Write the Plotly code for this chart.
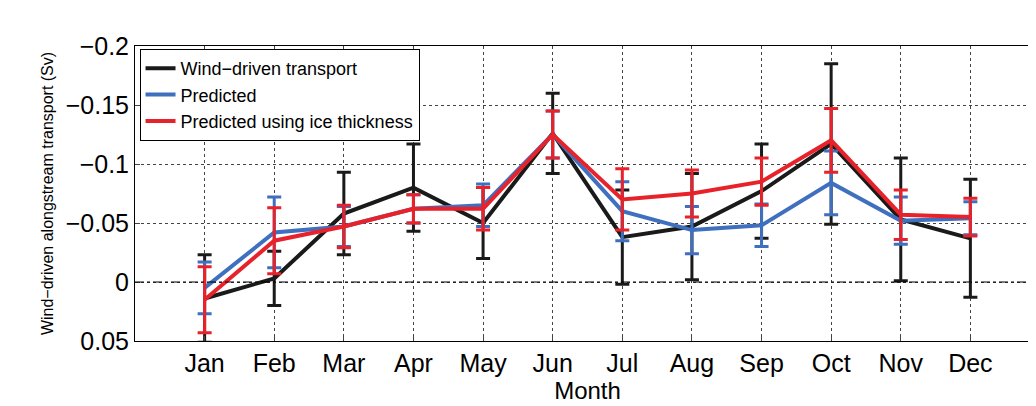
import plotly.graph_objects as go

months = ["Jan","Feb","Mar","Apr","May","Jun","Jul","Aug","Sep","Oct","Nov","Dec"]
wind = [0.014,-0.003,-0.058,-0.080,-0.050,-0.126,-0.038,-0.047,-0.077,-0.117,-0.053,-0.037]
wind_err = [0.037,0.023,0.035,0.037,0.030,0.034,0.040,0.045,0.040,0.068,0.052,0.050]
pred = [0.005,-0.042,-0.047,-0.062,-0.065,-0.125,-0.060,-0.044,-0.048,-0.084,-0.052,-0.054]
pred_err = [0.022,0.030,0.017,0.012,0.018,0.020,0.025,0.020,0.018,0.027,0.020,0.014]
ice = [0.015,-0.035,-0.047,-0.062,-0.062,-0.125,-0.070,-0.075,-0.085,-0.120,-0.057,-0.055]
ice_err = [0.028,0.028,0.018,0.012,0.018,0.020,0.026,0.020,0.020,0.027,0.021,0.016]

x = list(range(1, 13))
fig = go.Figure()
fig.add_shape(type="line", xref="paper", x0=0, x1=1, y0=0, y1=0,
              line=dict(color="black", width=1, dash="dashdot"))
for name, y, e, c in [("Wind\u2212driven transport", wind, wind_err, "#1a1a1a"),
                      ("Predicted", pred, pred_err, "#3f6fbf"),
                      ("Predicted using ice thickness", ice, ice_err, "#e8222a")]:
    fig.add_trace(go.Scatter(x=x, y=y, name=name, mode="lines",
                             line=dict(color=c, width=4),
                             error_y=dict(type="data", array=e, color=c, thickness=3, width=7)))

fig.update_layout(
    width=1036, height=406, plot_bgcolor="white", paper_bgcolor="white",
    margin=dict(l=127, r=4, t=38, b=73),
    font=dict(family="Liberation Sans", size=25, color="black"),
    legend=dict(x=0.005, y=0.99, xanchor="left", yanchor="top", bordercolor="black",
                borderwidth=1, font=dict(size=18), bgcolor="white", tracegroupgap=0),
    xaxis=dict(range=[0, 13], tickvals=x, ticktext=months, showgrid=True,
               gridcolor="#444", griddash="dot", showline=True, linecolor="black",
               mirror=True, ticks="inside",
               title=dict(text="Month", standoff=0, font=dict(size=24))),
    yaxis=dict(range=[0.05, -0.2], tickvals=[0.05,0,-0.05,-0.1,-0.15,-0.2],
               ticktext=["0.05","0","\u22120.05","\u22120.1","\u22120.15","\u22120.2"],
               showgrid=True, gridcolor="#444", griddash="dot", showline=True,
               linecolor="black", mirror=True, ticks="inside", zeroline=False,
               title=dict(text="Wind\u2212driven alongstream transport (Sv)", font=dict(size=16), standoff=8)),
)
fig.write_html("out.html")
